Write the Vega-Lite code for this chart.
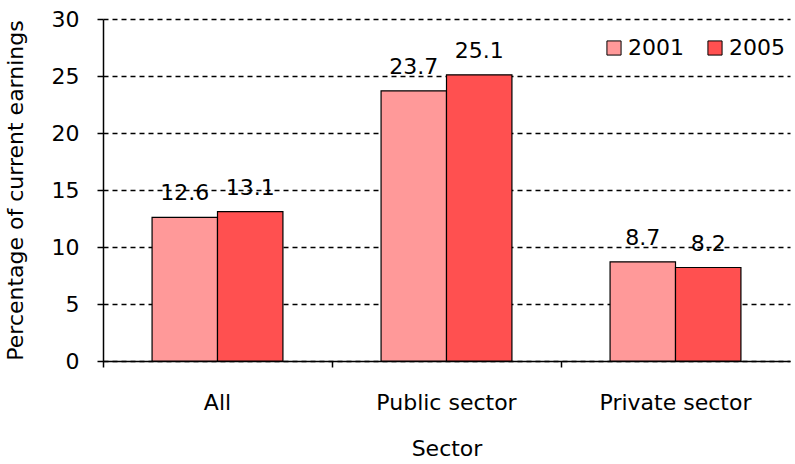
{
  "$schema": "https://vega.github.io/schema/vega-lite/v6.json",
  "width": 687,
  "height": 342,
  "autosize": {"type": "none"},
  "padding": {"left": 103, "top": 19, "right": 5, "bottom": 103},
  "background": "white",
  "config": {
    "font": "DejaVu Sans",
    "view": {"stroke": null},
    "axis": {"labelFont": "DejaVu Sans", "titleFont": "DejaVu Sans", "labelColor": "black", "titleColor": "black", "titleFontWeight": "normal", "domainColor": "black", "tickColor": "black"}
  },
  "data": {
    "values": [
      {"sector": "All", "year": "2001", "value": 12.6},
      {"sector": "All", "year": "2005", "value": 13.1},
      {"sector": "Public sector", "year": "2001", "value": 23.7},
      {"sector": "Public sector", "year": "2005", "value": 25.1},
      {"sector": "Private sector", "year": "2001", "value": 8.7},
      {"sector": "Private sector", "year": "2005", "value": 8.2}
    ]
  },
  "encoding": {
    "x": {
      "field": "sector", "type": "nominal", "sort": ["All", "Public sector", "Private sector"],
      "scale": {"paddingInner": 0, "paddingOuter": 0},
      "title": "Sector",
      "axis": {"labelAngle": 0, "labelFontSize": 22, "titleFontSize": 22, "bandPosition": 0, "tickSize": 6, "labelPadding": 25, "titlePadding": 25, "domainWidth": 1.5, "tickWidth": 1.5, "grid": false}
    },
    "xOffset": {"field": "year", "type": "nominal", "scale": {"paddingInner": 0, "paddingOuter": 0.75}},
    "y": {
      "field": "value", "type": "quantitative",
      "scale": {"domain": [0, 30], "nice": false},
      "title": "Percentage of current earnings",
      "axis": {"values": [0, 5, 10, 15, 20, 25, 30], "labelFontSize": 22, "titleFontSize": 22, "tickSize": 6, "labelPadding": 18, "titlePadding": 24, "domainWidth": 1.5, "tickWidth": 1.5, "grid": true, "gridColor": "black", "gridDash": [5, 4], "gridWidth": 1.3}
    }
  },
  "layer": [
    {
      "mark": {"type": "bar", "stroke": "black", "strokeWidth": 1.2},
      "encoding": {
        "color": {
          "field": "year", "type": "nominal",
          "scale": {"domain": ["2001", "2005"], "range": ["#FF9999", "#FF5050"]},
          "legend": {"title": null, "orient": "none", "legendX": 500, "legendY": 18, "direction": "horizontal", "symbolType": "square", "symbolSize": 200, "symbolStrokeColor": "black", "symbolStrokeWidth": 1, "labelFontSize": 22, "labelColor": "black", "columnPadding": 20, "labelOffset": 3}
        }
      }
    },
    {
      "mark": {"type": "text", "baseline": "bottom", "dy": -12, "fontSize": 22, "color": "black"},
      "encoding": {"text": {"field": "value", "type": "quantitative", "format": ".1f"}}
    }
  ]
}
